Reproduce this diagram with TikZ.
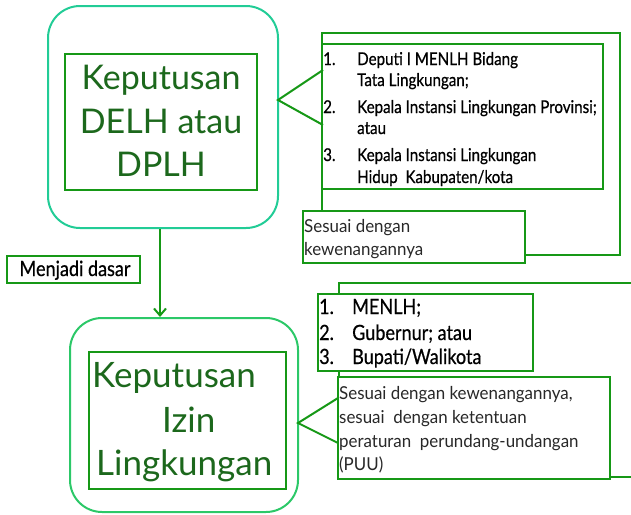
\documentclass[tikz,border=0pt]{standalone}
\usepackage{fontspec}
\setmainfont{Lato}
\newfontfamily\listfont[FakeStretch=0.86,FakeBold=0.6]{Lato}
\newfontfamily\notefont[FakeStretch=0.95]{Lato}
\usetikzlibrary{arrows.meta}
\definecolor{tealline}{RGB}{34,204,150}
\definecolor{mintline}{RGB}{44,200,104}
\definecolor{boxgreen}{RGB}{22,152,22}
\definecolor{textgreen}{RGB}{28,104,28}
\definecolor{notegray}{RGB}{40,40,40}
\tikzset{
  frame/.style={draw=boxgreen, line width=2pt},
  roundbox/.style={rectangle, rounded corners=32pt, line width=2pt, inner sep=0pt},
  innerbox/.style={rectangle, draw=boxgreen, line width=2.4pt, inner sep=0pt},
  listbox/.style={rectangle, draw=boxgreen, fill=white, line width=2pt, inner sep=0pt},
  bigtext/.style={text=textgreen, font=\fontsize{34}{34}\selectfont, inner sep=0pt, anchor=base},
  listtext/.style={text=black, font=\listfont\fontsize{17.6}{17.6}\selectfont, inner sep=0pt, anchor=base west},
  biglist/.style={listtext, font=\listfont\fontsize{21}{21}\selectfont},
  notetext/.style={text=notegray, font=\notefont\fontsize{17.8}{17.8}\selectfont, inner sep=0pt, anchor=base west},
  callout/.style={draw=boxgreen, line width=2pt},
}
\begin{document}
\begin{tikzpicture}[x=1pt,y=-1pt]
\useasboundingbox (0,0) rectangle (631,514);
\clip (0,0) rectangle (631,514);

% ---- upper decision block ----
\node[roundbox, draw=tealline, minimum width=230pt, minimum height=222pt] (topouter) at (163,117) {};
\node[innerbox, minimum width=192pt, minimum height=136pt] (topinner) at (161,122) {};
\node[bigtext] (t1) at (161,89) {Keputusan};
\node[bigtext] (t2) at (161,133) {DELH atau};
\node[bigtext] (t3) at (161,176) {DPLH};

% ---- lower decision block ----
\node[roundbox, draw=mintline, minimum width=228pt, minimum height=194pt] (botouter) at (184,415) {};
\node[innerbox, minimum width=197pt, minimum height=137pt] (botinner) at (187.5,420.5) {};
\node[bigtext, anchor=base west, font=\fontsize{35}{35}\selectfont] (b1) at (92,387) {Keputusan};
\node[bigtext, anchor=base west, font=\fontsize{35}{35}\selectfont] (b2) at (162,432) {Izin};
\node[bigtext, anchor=base west, font=\fontsize{35}{35}\selectfont] (b3) at (96,475) {Lingkungan};

% ---- link between the blocks ----
\draw[draw=boxgreen, line width=2pt, -{Straight Barb[length=7pt,width=12pt,line width=2pt]}]
  (topouter.south -| 160,0) -- (botouter.north -| 160,0);
\node[rectangle, draw=boxgreen, line width=2pt, minimum width=133pt, minimum height=27pt, inner sep=0pt] (dasarbox) at (73.5,269.5) {};
\node[text=black, font=\listfont\fontsize{21}{21}\selectfont, inner sep=0pt, anchor=base] (dasar) at (75,276) {Menjadi dasar};

% ---- authorities for DELH / DPLH ----
\node[rectangle, frame, minimum width=298pt, minimum height=222pt, inner sep=0pt] (topframe) at (471,144) {};
\node[listbox, minimum width=281pt, minimum height=145pt] (toplist) at (462.5,116.5) {};
\coordinate (tapex) at (278,100);
\draw[callout] (323,70) -- (tapex) -- (323,125);
\node[listtext] (l1n) at (323,65) {1.};
\node[listtext] (l1a) at (357,65) {Deputi I MENLH Bidang};
\node[listtext] (l1b) at (357,86) {Tata Lingkungan;};
\node[listtext] (l2n) at (323,113) {2.};
\node[listtext] (l2a) at (357,113) {Kepala Instansi Lingkungan Provinsi;};
\node[listtext] (l2b) at (357,134) {atau};
\node[listtext] (l3n) at (323,161) {3.};
\node[listtext] (l3a) at (357,161) {Kepala Instansi Lingkungan};
\node[listtext] (l3b) at (357,183) {Hidup\ \ Kabupaten/kota};
\node[listbox, minimum width=222pt, minimum height=52pt] (topnote) at (414,237) {};
\node[notetext] (n1) at (304,232) {Sesuai dengan};
\node[notetext] (n2) at (304,255) {kewenangannya};

% ---- authorities for the environmental permit ----
\draw[frame] (640,283) -- (339,283) -- (339,477) -- (640,477);
\node[listbox, minimum width=215pt, minimum height=77pt] (botlist) at (425.5,332.5) {};
\node[biglist] (m1n) at (319,314) {1.};
\node[biglist] (m1) at (352,314) {MENLH;};
\node[biglist] (m2n) at (319,340) {2.};
\node[biglist] (m2) at (352,340) {Gubernur; atau};
\node[biglist] (m3n) at (319,364) {3.};
\node[biglist] (m3) at (352,364) {Bupati/Walikota};
\node[listbox, minimum width=272pt, minimum height=102pt] (botnote) at (474,428) {};
\coordinate (bapex) at (298,423);
\draw[callout] (338,398) -- (bapex) -- (338,443);
\node[notetext] (p1) at (339,399) {Sesuai dengan kewenangannya,};
\node[notetext] (p2) at (339,423) {sesuai\ \ dengan ketentuan};
\node[notetext] (p3) at (339,447) {peraturan\ \ perundang-undangan};
\node[notetext] (p4) at (339,470) {(PUU)};
\end{tikzpicture}
\end{document}
